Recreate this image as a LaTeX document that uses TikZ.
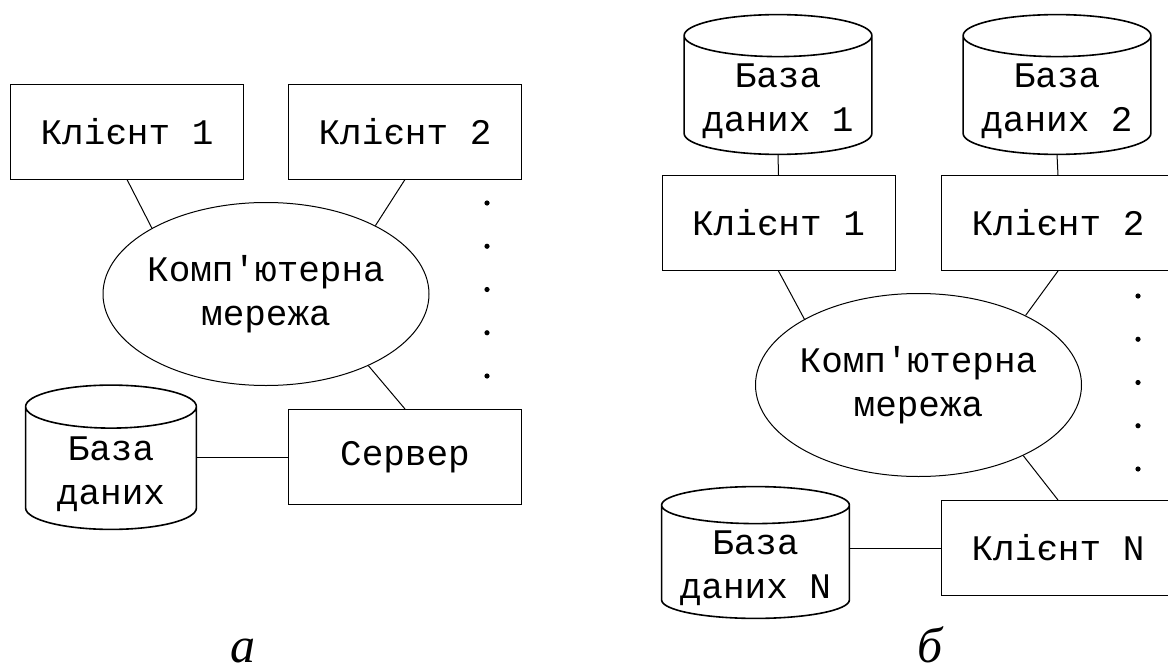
\documentclass[tikz,border=0pt]{standalone}
\usepackage{fontspec}
\setmainfont{Liberation Serif}
\setmonofont{Liberation Mono}
\usetikzlibrary{shapes.geometric,calc}
\newcommand{\boxfont}{\ttfamily\fontsize{18}{22}\selectfont}
% outline of a database drum round the node #2 (top lid 6pt above the node)
\newcommand{\dbframe}[2][10.5pt]{
  \draw[dbline] let \p1=(#2.north west), \p2=(#2.south east), \n1={(\x2-\x1)/2} in
    (\x1,\y1+6pt) arc[start angle=180, end angle=-180, x radius=\n1, y radius=#1]
    (\x1,\y1+6pt) -- (\x1,\y2+#1)
    arc[start angle=180, end angle=360, x radius=\n1, y radius=#1] -- (\x2,\y1+6pt);
}
\tikzset{
  client/.style={draw, line width=0.5pt, minimum width=116.5pt,
    minimum height=47.5pt, inner sep=0pt, font=\boxfont},
  dbase/.style={inner sep=0pt, align=center, font=\boxfont},
  dbline/.style={line width=0.8pt},
  net/.style={draw, ellipse, line width=0.5pt, minimum width=163pt,
    minimum height=91.5pt, inner xsep=-2pt, inner ysep=0pt, align=center, font=\boxfont},
  link/.style={line width=0.5pt},
  caption/.style={anchor=base, inner sep=0pt, font=\itshape\fontsize{25}{30}\selectfont}
}
\begin{document}
\begin{tikzpicture}[x=0.5pt,y=-0.5pt]
  \useasboundingbox (0,0) rectangle (1168,669);
  % a
  \node[client] (cl1a) at (127,131.5) {Клієнт 1};
  \node[client] (cl2a) at (405,131.5) {Клієнт 2};
  \node[net] (neta) at (266,294) {Комп'ютерна\\мережа};
  \node[dbase, minimum width=85pt, minimum height=55pt] (dba) at (111,474) {База\\даних};
  \dbframe[10.75pt]{dba}
  \node[client] (srva) at (405,457) {Сервер};
  \foreach \k in {0,...,4}
    \fill (487,{203+43.25*\k}) circle (1.3pt);
  \draw[link] (cl1a.south) -- (neta.150);
  \draw[link] (cl2a.south) -- (neta.32);
  \draw[link] (srva.north) -- (neta.-35);
  \draw[link] (dba.east |- srva.west) -- (srva.west);
  \node[caption] (capa) at (243,662) {а};
  % b
  \node[dbase, minimum width=93.5pt, minimum height=53pt] (db1b) at (778,101) {База\\даних 1};
  \dbframe{db1b}
  \node[dbase, minimum width=93.5pt, minimum height=53pt] (db2b) at (1057,101) {База\\даних 2};
  \dbframe{db2b}
  \node[client] (cl1b) at (778.5,223) {Клієнт 1};
  \node[client] (cl2b) at (1058,223) {Клієнт 2};
  \node[net] (netb) at (918.5,385) {Комп'ютерна\\мережа};
  \node[dbase, minimum width=93.5pt, minimum height=50.25pt] (dbnb) at (755.5,567.75) {База\\даних N};
  \dbframe[9.25pt]{dbnb}
  \node[client] (clnb) at (1058,548) {Клієнт N};
  \foreach \k in {0,...,4}
    \fill (1138,{296+43.25*\k}) circle (1.3pt);
  \draw[link] (db1b.south) -- (cl1b.north);
  \draw[link] (db2b.south) -- (cl2b.north);
  \draw[link] (cl1b.south) -- (netb.150);
  \draw[link] (cl2b.south) -- (netb.33);
  \draw[link] (clnb.north) -- (netb.-34);
  \draw[link] (dbnb.east |- clnb.west) -- (clnb.west);
  \node[caption] (capb) at (930,662) {б};
\end{tikzpicture}
\end{document}
